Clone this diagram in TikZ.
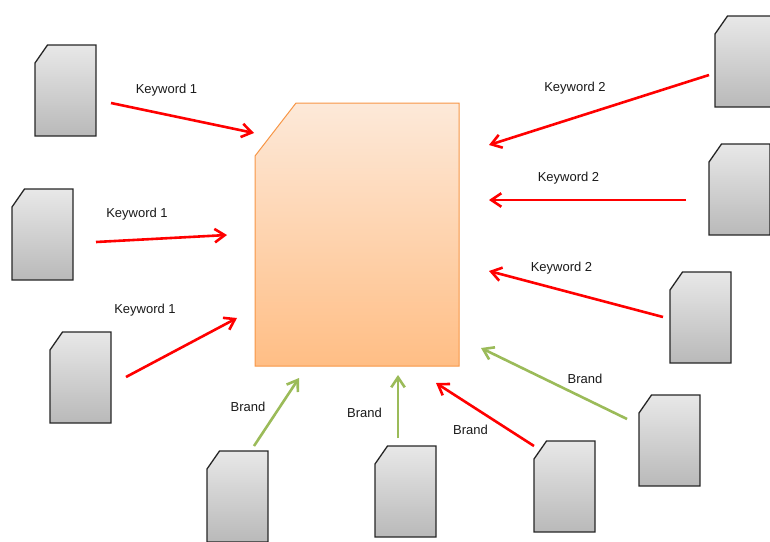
\documentclass[tikz,border=0pt]{standalone}
\usepackage{fontspec}
\setmainfont{Liberation Sans}
\usetikzlibrary{arrows.meta}

\definecolor{docedge}{HTML}{262626}
\definecolor{doctop}{HTML}{E8E8E8}
\definecolor{docbottom}{HTML}{B9B9B9}
\definecolor{mainedge}{HTML}{F79646}
\definecolor{maintop}{HTML}{FDE9D9}
\definecolor{mainbottom}{HTML}{FFBE85}
\definecolor{brandgreen}{HTML}{9BBB59}

\tikzset{
  docbox/.style={draw=docedge, line width=0.026cm, top color=doctop, bottom color=docbottom},
  maindoc/.style={draw=mainedge, line width=0.02cm, top color=maintop, bottom color=mainbottom},
  redarrow/.style={draw=red, line width=0.052cm, -{Straight Barb[length=0.2cm,width=0.27cm]}},
  greenarrow/.style={draw=brandgreen, line width=0.052cm, -{Straight Barb[length=0.2cm,width=0.27cm]}},
  tag/.style={font=\fontsize{7.4pt}{9pt}\selectfont, text=black!90, inner sep=0pt}
}

\begin{document}
\begin{tikzpicture}[x=0.02cm, y=-0.02cm]
    \useasboundingbox (0,0) rectangle (770,541);
    \clip (0,0) rectangle (770,541);

    % documents
    \foreach \i/\x/\y in {1/35/45, 2/12/189, 3/50/332, 4/207/451, 5/375/446, 6/534/441, 7/639/395, 8/670/272, 9/709/144, 10/715/16} {
      \coordinate (D\i) at (\x,\y);
      \draw [docbox] (\x,\y+18) -- (\x+12.5,\y) -- (\x+61,\y) -- (\x+61,\y+91) -- (\x,\y+91) -- cycle;
    }

    \draw [maindoc] (255,156) -- (296,103) -- (459,103) -- (459,366) -- (255,366) -- cycle;

    % arrows
    \coordinate (A1) at (111,103);
    \coordinate (B1) at (254,133);
    \coordinate (A2) at (96,242);
    \coordinate (B2) at (227,235);
    \coordinate (A3) at (126,377);
    \coordinate (B3) at (237,318);
    \coordinate (A4) at (254,446);
    \coordinate (B4) at (299,378);
    \coordinate (A5) at (398,438);
    \coordinate (B5) at (398,375);
    \coordinate (A6) at (534,446);
    \coordinate (B6) at (436,383);
    \coordinate (A7) at (627,419);
    \coordinate (B7) at (481,348);
    \coordinate (A8) at (663,317);
    \coordinate (B8) at (489,271);
    \coordinate (A9) at (686,200);
    \coordinate (B9) at (489,200);
    \coordinate (A10) at (709,75);
    \coordinate (B10) at (489,145);

    \draw [redarrow] (A1) -- (B1);
    \draw [redarrow] (A2) -- (B2);
    \draw [redarrow] (A3) -- (B3);
    \draw [greenarrow] (A4) -- (B4);
    \draw [greenarrow] (A5) -- (B5);
    \draw [redarrow] (A6) -- (B6);
    \draw [greenarrow] (A7) -- (B7);
    \draw [redarrow] (A8) -- (B8);
    \draw [redarrow] (A9) -- (B9);
    \draw [redarrow] (A10) -- (B10);

    % labels
    \node [tag] (k1) at (166.5,90) {Keyword 1};
    \node [tag] (k2) at (137,214) {Keyword 1};
    \node [tag] (k3) at (145,310) {Keyword 1};
    \node [tag] (k4) at (575,88) {Keyword 2};
    \node [tag] (k5) at (568.5,178) {Keyword 2};
    \node [tag] (k6) at (561.5,268) {Keyword 2};
    \node [tag] (b1) at (248,407) {Brand};
    \node [tag] (b2) at (364.5,413) {Brand};
    \node [tag] (b3) at (470.5,430) {Brand};
    \node [tag] (b4) at (585,379) {Brand};
\end{tikzpicture}
\end{document}
